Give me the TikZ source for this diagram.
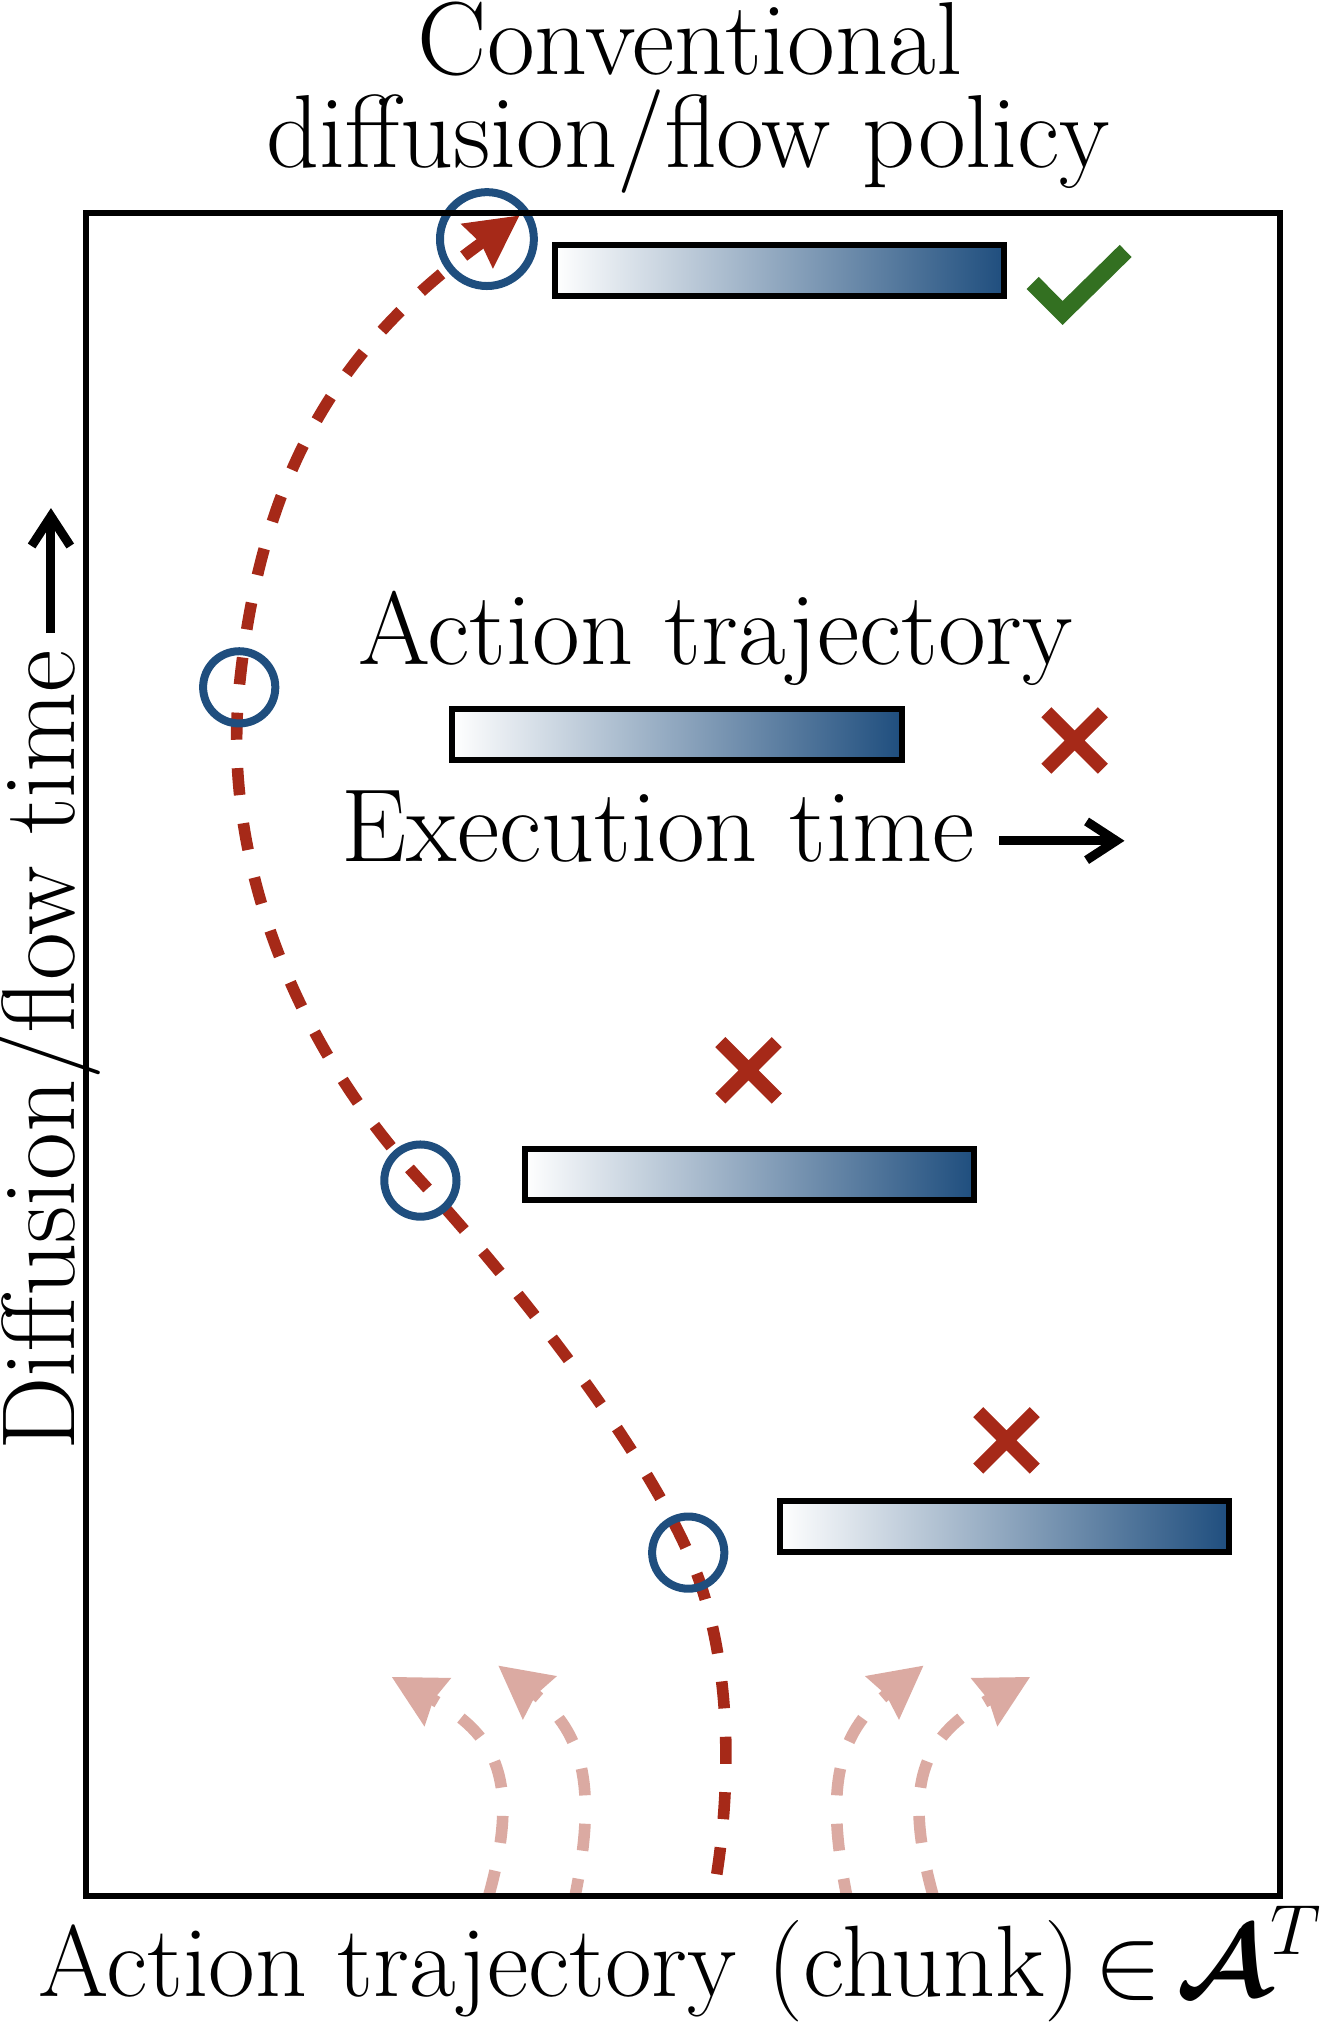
\documentclass[tikz,border=0pt]{standalone}
\usepackage{fix-cm}
\usetikzlibrary{arrows.meta}
\definecolor{pcblue}{RGB}{31,78,126}
\definecolor{pcred}{RGB}{166,41,24}
\definecolor{pcfaint}{RGB}{219,170,162}
\definecolor{pcgreen}{RGB}{51,112,33}
\tikzset{
  lbl/.style={font=\fontsize{80.5}{92}\selectfont, inner sep=0pt, outer sep=0pt},
  gradbar/.style={draw=black, line width=4.6pt, left color=white, right color=pcblue,
    minimum width=348.4pt, minimum height=39.5pt, inner sep=0pt},
  dotc/.style={circle, draw=pcblue, line width=6.2pt, minimum size=56pt, inner sep=0pt},
  traj/.style={draw=pcred, line width=9pt, dash pattern=on 21pt off 22pt, dash phase=2pt,
    {Stealth[length=40pt,width=40.5pt,inset=3pt]}-},
  ghost/.style={draw=pcfaint, line width=9pt, dash pattern=on 21pt off 22pt, dash phase=15pt,
    {Stealth[length=40pt,width=40.5pt,inset=3pt]}-},
  crossline/.style={draw=pcred, line width=11pt},
  axarrow/.style={draw=black, line width=7pt, -{Straight Barb[length=23pt,width=30pt]}},
  xcross/.pic={\draw[crossline] (-21.9,-21.9) -- (21.9,21.9) (-21.9,21.9) -- (21.9,-21.9);}
}
\begin{document}
\begin{tikzpicture}[x=1pt,y=-1pt]
\useasboundingbox (0,0) rectangle (1041,1568);
% bars
\node[gradbar] (b1) at (604.4,209.8) {};
\node[gradbar] (b2) at (525,569.5) {};
\node[gradbar] (b3) at (581,910.5) {};
\node[gradbar] (b4) at (779,1183.5) {};
% circles positions
\coordinate (p1) at (377.6,185.4);
\coordinate (p2) at (185.5,533);
\coordinate (p3) at (326,915.5);
\coordinate (p4) at (533.7,1204);
\coordinate (bot) at (553,1470);
\coordinate (tip) at (403,167);
% main trajectory (drawn from the tip backwards)
\draw[traj] (tip) .. controls (264.96,266.3) and (202.5,363.9) .. (p2)
  .. controls (172.5,662) and (224.6,805) .. (p3)
  .. controls (393.6,989.2) and (493,1112.7) .. (p4)
  .. controls (572,1290) and (566,1400) .. (bot);
% faint trajectories
\coordinate (gA0) at (379,1470);   \coordinate (gA1) at (303.6,1300.3);
\coordinate (gB0) at (446,1470);   \coordinate (gB1) at (386.3,1291.5);
\coordinate (gC0) at (656.6,1470); \coordinate (gC1) at (716.3,1291.5);
\coordinate (gD0) at (723.6,1470); \coordinate (gD1) at (799,1300.3);
\draw[ghost] (gA1) .. controls (385,1345) and (404,1380) .. (gA0);
\draw[ghost] (gB1) .. controls (455,1345) and (462,1390) .. (gB0);
\draw[ghost] (gC1) .. controls (647.6,1345) and (640.6,1390) .. (gC0);
\draw[ghost] (gD1) .. controls (717.6,1345) and (698.6,1380) .. (gD0);
% circles
\node[dotc, minimum size=72.8pt] (c1) at (p1) {};
\node[dotc] (c2) at (p2) {};
\node[dotc] (c3) at (p3) {};
\node[dotc] (c4) at (p4) {};
% frame
\draw[line width=4.5pt] (66.5,165) rectangle (992.5,1470);
% marks
\draw[pcgreen, line width=13.2pt, line join=miter] (800.8,219.4) -- (824,242.7) -- (872.9,194.6);
\pic (x1) at (833.3,574.2) {xcross};
\pic (x2) at (580.5,830) {xcross};
\pic (x3) at (780.5,1117) {xcross};
% texts
\node[lbl, anchor=base] (t1) at (535,58) {Conventional};
\node[lbl, anchor=base] (t2) at (534,130) {diffusion/flow policy};
\node[lbl, anchor=base] (at) at (555,515) {Action trajectory};
\node[lbl, anchor=base west] (ex) at (265,668) {Execution time};
\coordinate (exa) at (775,652); \coordinate (exb) at (872,652);
\draw[axarrow] (exa) -- (exb);
\node[lbl, font=\fontsize{78.7}{92}\selectfont, anchor=base west] (xl) at (30,1548)
  {Action trajectory (chunk)$\mkern2.5mu{\in}\mkern2.6mu\mbox{\boldmath$\mathcal{A}$}^T$};
\node[lbl, anchor=base west, rotate=90] (yl) at (58,1125) {Diffusion/flow time};
\coordinate (ya) at (39.5,491); \coordinate (yb) at (39.5,394);
\draw[axarrow] (ya) -- (yb);
\end{tikzpicture}
\end{document}
